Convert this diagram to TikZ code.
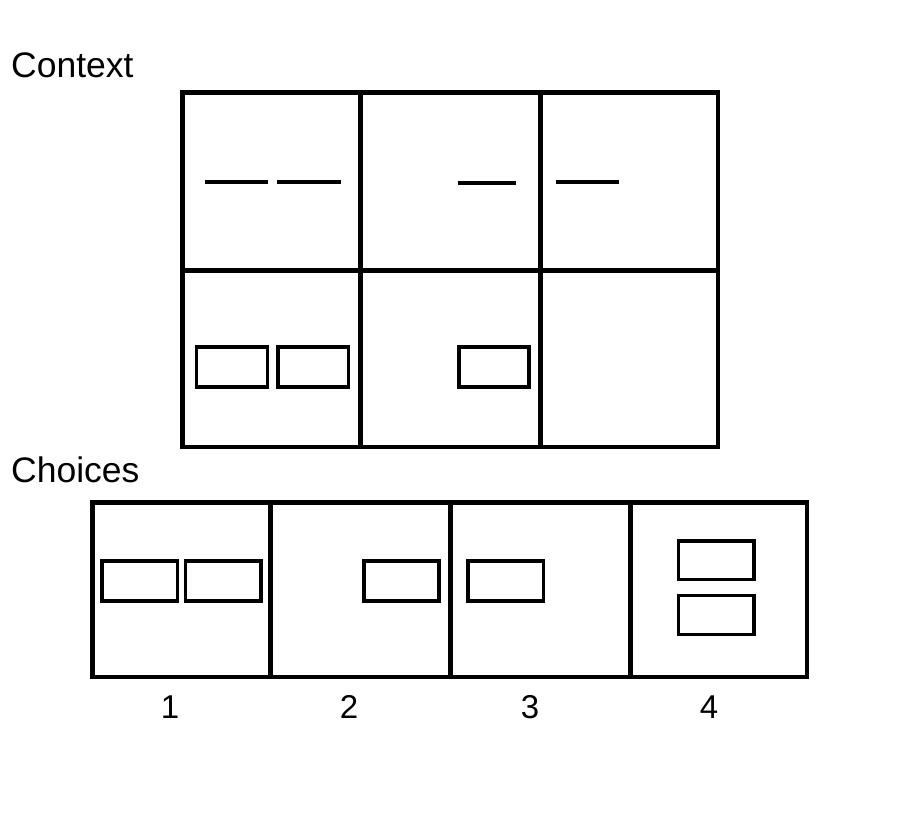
\documentclass[tikz,border=0pt]{standalone}
\usepackage{fontspec}
\setmainfont{Liberation Sans}
\tikzset{
  gridline/.style={line width=4.5pt},
  piece/.style={line width=3.5pt},
  bar/.style={line width=3.5pt},
  lbl/.style={font=\fontsize{33}{40}\selectfont, inner sep=0pt},
  head/.style={font=\fontsize{35.5}{42}\selectfont, inner sep=0pt, anchor=base west}
}

\begin{document}
\begin{tikzpicture}[x=1pt,y=-1pt]
		\useasboundingbox (0,0) rectangle (900,820);
		%%%%% START %%%%%
		
		\node[head] (context) at (11,77) {Context};
		
		\draw[gridline] (182.5,92.5) rectangle (718,447);
		\draw[gridline] (360.5,92.5) -- (360.5,447);
		\draw[gridline] (540.5,92.5) -- (540.5,447);
		\draw[gridline] (182.5,270.5) -- (718,270.5);
		
		\draw[bar] (204.5,182) -- (267.5,182);
		\draw[bar] (277,182) -- (340.5,182);
		\draw[bar] (457.5,183) -- (516,183);
		\draw[bar] (555.5,182) -- (618.5,182);
		
		\draw[piece] (196.5,347) rectangle (267.5,387);
		\draw[piece] (278,347) rectangle (348.5,387);
		\draw[piece] (459,347) rectangle (529,387);
		
		\node[head] (choices) at (11,482) {Choices};
		
		\draw[gridline] (92.5,502.5) rectangle (807,677);
		\foreach \x in {270.5,450.5,630.5}
			\draw[gridline] (\x,502.5) -- (\x,677);
		
		\draw[piece] (102,561) rectangle (177.5,601);
		\draw[piece] (185.5,561) rectangle (261,601);
		\draw[piece] (364,561) rectangle (439,601);
		\draw[piece] (468,561) rectangle (543.5,601);
		\draw[piece] (678.5,541) rectangle (754,579.5);
		\draw[piece] (678.5,595.5) rectangle (754,634.5);
		
		\foreach \n/\x in {1/170,2/349,3/530,4/709}
			\node[lbl, anchor=base] (num\n) at (\x,718) {\n};
		
		%%%%% END %%%%%
	\end{tikzpicture}
\end{document}
